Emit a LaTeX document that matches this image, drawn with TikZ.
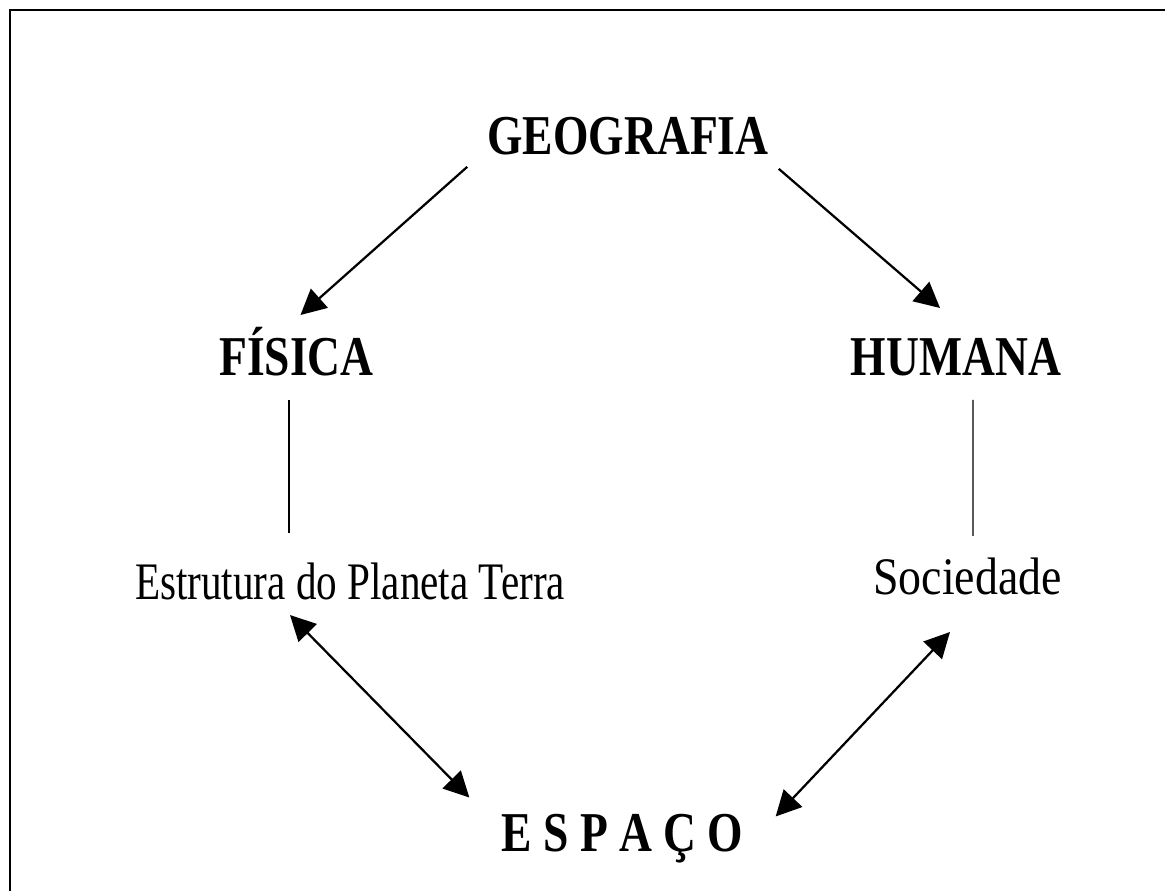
\documentclass[tikz,border=0pt]{standalone}
\usepackage{graphicx}
\usepackage{fontspec}
\setmainfont{Liberation Serif}
\usetikzlibrary{arrows.meta}

\newcommand{\estreito}[2][0.81]{\scalebox{#1}[1]{#2}}

\tikzset{
	titulo/.style={inner sep=0pt,anchor=base,font=\bfseries\fontsize{40}{48}\selectfont},
	texto/.style={inner sep=0pt,anchor=base,font=\fontsize{37.5}{45}\selectfont},
	seta/.style={black,line width=1.6pt},
	linha/.style={black,line width=1pt}
}

\begin{document}
\begin{tikzpicture}[x=0.025cm,y=-0.025cm,>={Triangle[length=18pt,width=18pt]}]
	\useasboundingbox (0,0) rectangle (1165,891);
	\draw[black,line width=1.5pt] (10,891) -- (10,10) -- (1165,10);
	%
	\node[titulo] (geo) at (628,155) {\estreito{GEOGRAFIA}};
	\node[titulo] (fis) at (296.5,376) {\estreito{F\'ISICA}};
	\node[titulo] (hum) at (956,376) {\estreito{HUMANA}};
	\node[texto] (est) at (350,600) {\estreito[0.78]{Estrutura do Planeta Terra}};
	\node[texto] (soc) at (967.5,595) {\estreito[0.87]{Sociedade}};
	\node[titulo] (esp) at (622.5,851) {\estreito{E S P A \c{C} O}};
	%
	\draw[seta,->] ([shift={(-20,11)}]geo.south west) -- ([shift={(4,-61)}]fis.base);
	\draw[seta,->] ([shift={(10,13)}]geo.south east) -- ([shift={(-16,-68)}]hum.base);
	\draw[linha] ([shift={(-7.5,24)}]fis.base) -- ([shift={(-61,-67)}]est.base);
	\draw[linha] ([shift={(17,24)}]hum.base) -- ([shift={(5.5,-59)}]soc.base);
	\draw[seta,<->] ([shift={(-60,15)}]est.base) -- ([shift={(-32,-16)}]esp.north west);
	\draw[seta,<->] ([shift={(-17.5,37)}]soc.base) -- ([shift={(32,3)}]esp.north east);
\end{tikzpicture}
\end{document}
